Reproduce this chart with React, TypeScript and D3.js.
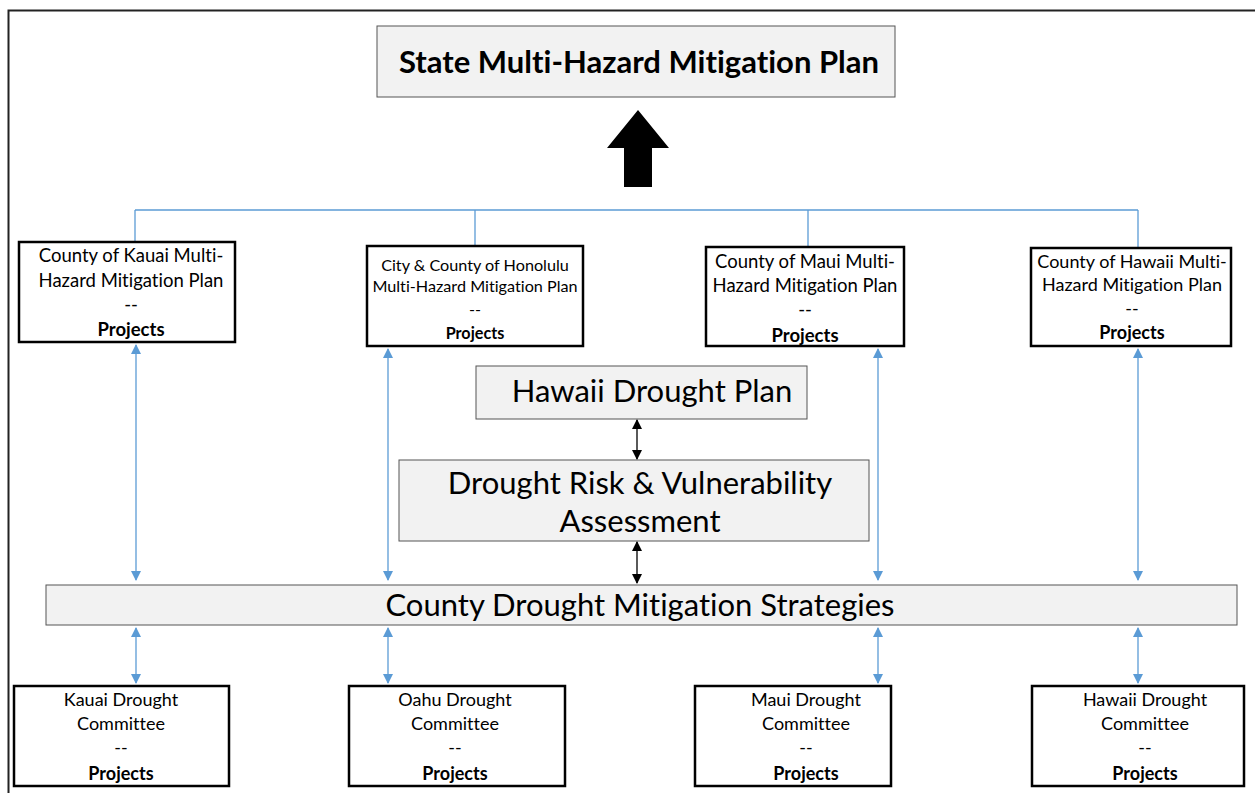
import React, { useRef, useEffect } from 'react';
import * as d3 from 'd3';

// node labels
const title = 'State Multi-Hazard Mitigation Plan';
const county_plans = [
    ['County of Kauai Multi-', 'Hazard Mitigation Plan'],
    ['City & County of Honolulu', 'Multi-Hazard Mitigation Plan'],
    ['County of Maui Multi-', 'Hazard Mitigation Plan'],
    ['County of Hawaii Multi-', 'Hazard Mitigation Plan'],
];
const committees = [
    ['Kauai Drought', 'Committee'],
    ['Oahu Drought', 'Committee'],
    ['Maui Drought', 'Committee'],
    ['Hawaii Drought', 'Committee'],
];
const drought_plan = 'Hawaii Drought Plan';
const assessment = ['Drought Risk & Vulnerability', 'Assessment'];
const strategies = 'County Drought Mitigation Strategies';
const projects_label = 'Projects';

// layout (pixel positions in the 1255x793 frame)
const plan_boxes = [
    { x: 19, y: 242, w: 216, h: 100, cx: 131, fs: 18.5 },
    { x: 367, y: 246, w: 216, h: 100, cx: 475, fs: 16.2 },
    { x: 706, y: 247, w: 198, h: 99, cx: 805, fs: 18.5 },
    { x: 1031, y: 248, w: 200, h: 98, cx: 1132, fs: 18 },
];
const plan_line_y = [[256, 281, 305, 330], [265, 286, 309, 333], [262, 286, 310, 336], [262, 285, 309, 333]];
const stem_x = [135, 475, 808, 1138];
const link_x = [136, 388, 878, 1138];
const comm_boxes = [
    { x: 14, y: 686, w: 215, h: 100, cx: 121 },
    { x: 349, y: 686, w: 216, h: 100, cx: 455 },
    { x: 695, y: 686, w: 196, h: 100, cx: 806 },
    { x: 1032, y: 686, w: 212, h: 100, cx: 1145 },
];
const comm_line_y = [700, 724, 748, 774];

const FONT = 'Lato, "Open Sans", sans-serif';
const BLUE = '#5b9bd5';
const GREY_FILL = '#f2f2f2';

export default function App() {
    const svg_ref = useRef(null);

    useEffect(() => {
        const svg = d3.select(svg_ref.current);
        svg.selectAll('*').remove();

        const defs = svg.append('defs');
        const marker = (id, color) => {
            defs.append('marker')
                .attr('id', id)
                .attr('viewBox', '0 0 10 10')
                .attr('refX', 9)
                .attr('refY', 5)
                .attr('markerWidth', 10)
                .attr('markerHeight', 10)
                .attr('markerUnits', 'userSpaceOnUse')
                .attr('orient', 'auto-start-reverse')
                .append('path')
                .attr('d', 'M0,0 L10,5 L0,10 Z')
                .attr('fill', color);
        };
        marker('blue-head', BLUE);
        marker('black-head', '#000');

        // outer frame
        svg.append('rect')
            .attr('x', 8.5).attr('y', 10.5)
            .attr('width', 1260).attr('height', 800)
            .attr('fill', 'none').attr('stroke', '#222').attr('stroke-width', 2);

        // top box
        svg.append('rect')
            .attr('x', 377).attr('y', 26).attr('width', 518).attr('height', 71)
            .attr('fill', GREY_FILL).attr('stroke', '#555').attr('stroke-width', 1);
        svg.append('text')
            .attr('x', 639).attr('y', 73)
            .attr('text-anchor', 'middle')
            .attr('font-family', FONT).attr('font-weight', 'bold').attr('font-size', 31)
            .text(title);

        // big black up arrow
        const arrow = d3.path();
        arrow.moveTo(638, 110);
        arrow.lineTo(669, 148);
        arrow.lineTo(652, 148);
        arrow.lineTo(652, 187);
        arrow.lineTo(624, 187);
        arrow.lineTo(624, 148);
        arrow.lineTo(607, 148);
        arrow.closePath();
        svg.append('path').attr('d', arrow.toString()).attr('fill', '#000');

        // blue connector bracket
        svg.append('line')
            .attr('x1', d3.min(stem_x)).attr('x2', d3.max(stem_x))
            .attr('y1', 210).attr('y2', 210)
            .attr('stroke', BLUE).attr('stroke-width', 1.3);
        svg.selectAll('.stem')
            .data(stem_x.map((x, i) => ({ x, top: plan_boxes[i].y })))
            .join('line')
            .attr('x1', (d) => d.x).attr('x2', (d) => d.x)
            .attr('y1', 210).attr('y2', (d) => d.top)
            .attr('stroke', BLUE).attr('stroke-width', 1.3);

        const text_lines = (g, lines, cx, ys, fs) => {
            lines.forEach((t, i) => {
                g.append('text')
                    .attr('x', cx).attr('y', ys[i])
                    .attr('dy', '0.35em')
                    .attr('text-anchor', 'middle')
                    .attr('font-family', FONT)
                    .attr('font-size', fs)
                    .attr('font-weight', t === projects_label ? 'bold' : 'normal')
                    .text(t);
            });
        };

        // county plan boxes
        plan_boxes.forEach((b, i) => {
            const g = svg.append('g');
            g.append('rect')
                .attr('x', b.x).attr('y', b.y).attr('width', b.w).attr('height', b.h)
                .attr('fill', '#fff').attr('stroke', '#000').attr('stroke-width', 2.5);
            text_lines(g, [...county_plans[i], '--', projects_label], b.cx, plan_line_y[i], b.fs);
        });

        // committee boxes
        comm_boxes.forEach((b, i) => {
            const g = svg.append('g');
            g.append('rect')
                .attr('x', b.x).attr('y', b.y).attr('width', b.w).attr('height', b.h)
                .attr('fill', '#fff').attr('stroke', '#000').attr('stroke-width', 2.5);
            text_lines(g, [...committees[i], '--', projects_label], b.cx, comm_line_y, 18);
        });

        // centre grey boxes
        const grey_box = (x, y, w, h) =>
            svg.append('rect')
                .attr('x', x).attr('y', y).attr('width', w).attr('height', h)
                .attr('fill', GREY_FILL).attr('stroke', '#555').attr('stroke-width', 1);
        const big_text = (t, x, y) =>
            svg.append('text')
                .attr('x', x).attr('y', y)
                .attr('text-anchor', 'middle')
                .attr('font-family', FONT).attr('font-size', 31)
                .text(t);

        grey_box(476, 366, 331, 53);
        big_text(drought_plan, 652, 402);
        grey_box(399, 460, 470, 81);
        big_text(assessment[0], 640, 494);
        big_text(assessment[1], 640, 532);
        grey_box(46, 585, 1191, 40);
        big_text(strategies, 640, 616);

        const double_arrow = (x, y1, y2, color, id) =>
            svg.append('line')
                .attr('x1', x).attr('x2', x)
                .attr('y1', y1).attr('y2', y2)
                .attr('stroke', color).attr('stroke-width', 1.3)
                .attr('marker-start', `url(#${id})`)
                .attr('marker-end', `url(#${id})`);

        // black arrows in centre column
        double_arrow(637, 420, 459, '#000', 'black-head');
        double_arrow(637, 542, 583, '#000', 'black-head');

        // blue arrows plan -> strategies -> committees
        link_x.forEach((x, i) => {
            const top = plan_boxes[i].y + plan_boxes[i].h + 3;
            double_arrow(x, top, 580, BLUE, 'blue-head');
            double_arrow(x, 628, 683, BLUE, 'blue-head');
        });
    }, []);

    return (
        <svg
            ref={svg_ref}
            width={1255}
            height={793}
            style={{ position: 'fixed', left: 0, top: 0, background: '#fff', fontVariantLigatures: 'none' }}
        />
    );
}
